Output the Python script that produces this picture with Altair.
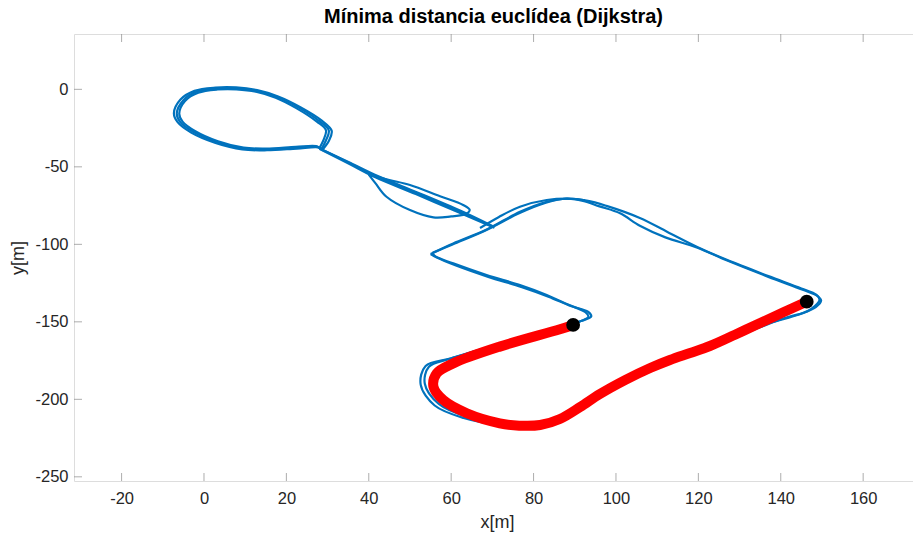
import altair as alt
import pandas as pd

# ---------------- data ----------------
TITLE = "Mínima distancia euclídea (Dijkstra)"
TICK_X = [-20, 0, 20, 40, 60, 80, 100, 120, 140, 160]
TICK_Y = [0, -50, -100, -150, -200, -250]
X_LIMITS = [-31.55, 172.1]
Y_LIMITS = [-252.7, 35.7]

# ellipse laps
E1_X = [28.5, 29.6, 30.3, 28.0, 23.0, 17.8, 12.8, 7.9, 3.1, -1.8, -5.0, -6.6, -5.8, -2.6, 3.1, 9.5, 15.2, 22.5, 27.5, 28.5]
E1_Y = [-38.5, -33.0, -26.5, -20.5, -11.8, -5.0, -1.0, 0.6, 0.5, -1.6, -7.0, -15.5, -21.0, -27.4, -34.0, -38.2, -38.7, -37.6, -37.0, -38.5]
E2_X = [28.8, 30.3, 31.0, 28.6, 23.4, 18.0, 12.9, 7.8, 2.8, -2.3, -5.7, -7.3, -6.4, -3.1, 2.8, 9.3, 15.3, 22.6, 27.8, 28.8]
E2_Y = [-38.8, -33.3, -26.8, -20.2, -11.5, -4.6, -0.5, 1.2, 1.1, -1.0, -6.6, -15.4, -21.2, -27.9, -34.6, -38.8, -39.3, -38.2, -37.5, -38.8]
E3_X = [28.0, 29.0, 29.6, 27.4, 22.4, 17.4, 12.6, 7.9, 3.3, -1.4, -4.6, -6.0, -5.2, -2.1, 3.4, 9.6, 15.1, 22.3, 27.2, 28.0]
E3_Y = [-38.0, -32.8, -26.3, -20.8, -12.1, -5.4, -1.5, 0.0, -0.1, -2.2, -7.5, -15.6, -20.8, -27.0, -33.5, -37.6, -38.2, -37.1, -36.6, -38.0]

# stem traces
S1_X = [28.3, 35.4, 41.9, 51.6, 62.1, 70.3]
S1_Y = [-38.5, -47.7, -56.4, -67.1, -79.0, -88.8]
S2_X = [28.6, 35.6, 42.2, 51.8, 62.3, 70.0]
S2_Y = [-38.8, -47.6, -56.0, -66.5, -78.4, -88.2]
S3_X = [28.0, 35.2, 41.6, 51.4, 61.9, 70.5]
S3_Y = [-38.3, -48.0, -56.8, -67.6, -79.5, -89.3]

# small lens loop on the stem
L_X = [40.0, 45.0, 50.0, 57.3, 62.9, 64.5, 63.5, 60.0, 55.7, 50.0, 44.3, 41.6, 40.0]
L_Y = [-55.0, -58.5, -61.7, -69.0, -74.6, -77.8, -80.5, -82.0, -82.6, -77.9, -69.3, -60.5, -55.0]

# upper line from the stem end to the top corner
UP_X = [67.0, 71.5, 76.7, 83.2, 89.6, 92.5]
UP_Y = [-89.5, -82.5, -75.7, -71.4, -70.6, -71.6]

# big loop, lap 1
LP1_X = [55.5, 60.5, 68.6, 76.7, 83.2, 87.5, 92.9, 97.7, 105.8, 112.5, 119.6, 126.9, 137.0, 145.0, 148.6, 149.4, 147.5, 145.5, 141.0, 135.0, 122.8, 118.0, 113.1, 108.3, 102.2, 96.1, 91.3, 86.4, 80.0, 72.0, 63.8, 57.0, 53.6, 54.6, 59.5, 71.8, 84.0, 90.5, 93.3, 92.6, 88.5, 83.2, 76.7, 68.6, 60.5, 56.0, 55.5]
LP1_Y = [-105.5, -99.4, -90.5, -79.0, -72.5, -70.6, -71.8, -75.2, -83.0, -92.0, -101.5, -110.0, -120.5, -128.5, -132.5, -136.0, -141.5, -144.2, -147.5, -153.5, -166.3, -170.6, -175.0, -180.2, -188.0, -197.0, -205.3, -212.8, -216.0, -215.3, -211.2, -203.0, -190.0, -179.0, -174.0, -164.5, -155.5, -150.5, -146.7, -143.8, -139.0, -132.7, -126.3, -119.8, -112.3, -107.5, -105.5]

# big loop, lap 2
LP2_X = [55.0, 60.2, 68.2, 76.5, 83.0, 88.0, 92.0, 96.0, 101.0, 105.8, 112.0, 119.6, 127.0, 137.0, 145.5, 149.0, 149.8, 148.5, 145.0, 135.0, 122.8, 118.0, 113.1, 108.3, 102.2, 96.1, 91.3, 86.4, 80.0, 72.0, 63.0, 56.0, 52.6, 53.8, 60.0, 72.0, 84.5, 91.5, 94.0, 93.2, 89.0, 83.6, 77.0, 69.0, 61.0, 56.5, 55.0]
LP2_Y = [-106.3, -100.2, -91.2, -80.0, -73.2, -70.6, -72.0, -75.5, -80.0, -88.0, -95.5, -102.0, -110.5, -121.0, -129.5, -133.5, -136.2, -140.5, -144.8, -152.5, -165.2, -169.8, -174.2, -179.5, -187.3, -196.3, -204.7, -212.4, -216.8, -216.3, -212.0, -204.0, -190.5, -178.5, -173.5, -164.0, -155.0, -149.5, -146.5, -143.5, -139.8, -133.8, -127.5, -121.0, -113.5, -108.5, -106.3]

# shortest path (red)
RED_X = [146.1, 140.5, 135.0, 128.9, 122.8, 118.0, 113.1, 108.3, 102.2, 96.1, 91.3, 86.4, 81.6, 76.5, 71.8, 63.8, 58.1, 55.7, 56.5, 60.5, 71.8, 86.4, 89.6]
RED_Y = [-137.2, -144.0, -150.8, -158.3, -165.6, -170.1, -174.6, -179.8, -187.6, -196.6, -205.0, -212.7, -216.6, -217.0, -215.5, -209.0, -200.5, -191.9, -183.2, -176.8, -166.0, -154.8, -152.0]

# start / end nodes
DOT_X = [89.6, 146.3]
DOT_Y = [-152.0, -137.0]

# ---------------- styling ----------------
FONT = "Liberation Sans"
AXIS_COLOR = "#8a8a8a"
TEXT_COLOR = "#262626"
W, H = 839, 447


def trace(name, xs, ys):
    return pd.DataFrame({"x": xs, "y": ys, "trace": name, "i": list(range(len(xs)))})


blue_df = pd.concat([
    trace("e1", E1_X, E1_Y), trace("e2", E2_X, E2_Y), trace("e3", E3_X, E3_Y),
    trace("s1", S1_X, S1_Y), trace("s2", S2_X, S2_Y), trace("s3", S3_X, S3_Y),
    trace("lens", L_X, L_Y), trace("up", UP_X, UP_Y),
    trace("lp1", LP1_X, LP1_Y), trace("lp2", LP2_X, LP2_Y),
], ignore_index=True)
red_df = trace("red", RED_X, RED_Y)
dot_df = pd.DataFrame({"x": DOT_X, "y": DOT_Y})
xt_df = pd.DataFrame({"x": TICK_X})
yt_df = pd.DataFrame({"y": TICK_Y})

xscale = alt.Scale(domain=X_LIMITS, nice=False, zero=False)
yscale = alt.Scale(domain=Y_LIMITS, nice=False, zero=False)

x_axis = alt.Axis(values=TICK_X, title="x[m]", grid=False, ticks=False, tickSize=0, domain=False,
                  labelExpr="'' + datum.value", labelFont=FONT, labelFontSize=16.5, labelColor=TEXT_COLOR,
                  labelPadding=9, titleFont=FONT, titleFontSize=18, titleFontWeight="normal",
                  titleColor=TEXT_COLOR, titleX=423, titleY=41, titleBaseline="middle", titleAlign="center")
y_axis = alt.Axis(values=TICK_Y, title="y[m]", grid=False, ticks=False, tickSize=0, domain=False,
                  labelExpr="'' + datum.value", labelFont=FONT, labelFontSize=16.5, labelColor=TEXT_COLOR,
                  labelPadding=6, titleFont=FONT, titleFontSize=18, titleFontWeight="normal",
                  titleColor=TEXT_COLOR, titleX=-56, titleY=H / 2, titleAngle=-90,
                  titleBaseline="middle", titleAlign="center")

X = alt.X("x:Q", scale=xscale, axis=x_axis)
Y = alt.Y("y:Q", scale=yscale, axis=y_axis)

blue = alt.Chart(blue_df).mark_line(color="#0072BD", strokeWidth=2.2, interpolate="catmull-rom", clip=True).encode(
    x=X, y=Y, detail="trace:N", order="i:Q")
red = alt.Chart(red_df).mark_line(color="#FF0000", strokeWidth=10, strokeCap="round", strokeJoin="round",
                                  interpolate="catmull-rom", clip=True).encode(x=X, y=Y, order="i:Q")
dots = alt.Chart(dot_df).mark_circle(color="black", size=190, opacity=1).encode(x=X, y=Y)

tick_bottom = alt.Chart(xt_df).mark_tick(color=AXIS_COLOR, thickness=1, size=8, orient="vertical").encode(
    x=X, y=alt.value(H - 4))
tick_top = alt.Chart(xt_df).mark_tick(color=AXIS_COLOR, thickness=1, size=8, orient="vertical").encode(
    x=X, y=alt.value(4))
tick_left = alt.Chart(yt_df).mark_tick(color=AXIS_COLOR, thickness=1, size=8, orient="horizontal").encode(
    y=Y, x=alt.value(4))

chart = alt.layer(blue, red, dots, tick_bottom, tick_top, tick_left).properties(
    width=W, height=H,
    title=alt.TitleParams(TITLE, font=FONT, fontSize=20, fontWeight="bold", color="black",
                          anchor="middle", offset=7),
    autosize=alt.AutoSizeParams(type="none"),
    padding={"left": 74, "top": 34, "right": 0, "bottom": 54},
).configure_view(stroke=AXIS_COLOR, strokeWidth=1).configure(background="white")

chart.save("out.html", embed_options={"renderer": "svg", "actions": False})
